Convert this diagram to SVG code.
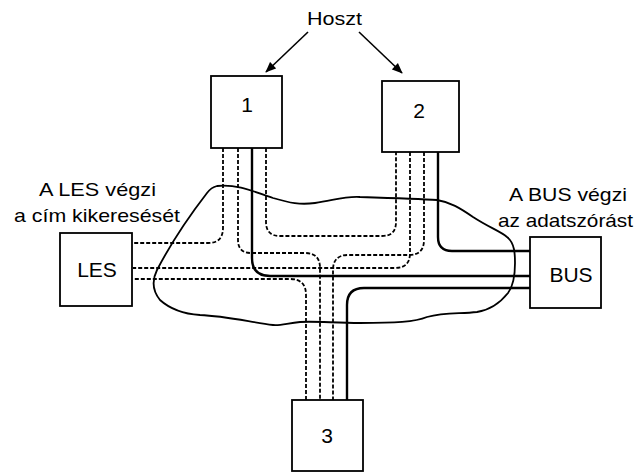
<svg xmlns="http://www.w3.org/2000/svg" width="638" height="472" viewBox="0 0 638 472">
<style>
.box{fill:#fff;stroke:#000;stroke-width:1.8}
.lbl{font-family:"Liberation Sans",Arial,sans-serif;font-size:19px;fill:#000}
.num{font-family:"Liberation Sans",Arial,sans-serif;font-size:21px;fill:#000;text-anchor:middle}
.sol{fill:none;stroke:#000;stroke-width:2.4}
.dash{fill:none;stroke:#000;stroke-width:1.8;stroke-dasharray:4 2}
.cloud{fill:none;stroke:#000;stroke-width:1.8}
.arr{fill:none;stroke:#000;stroke-width:1.6}
</style>
<defs>
<marker id="ah" viewBox="0 0 12 10" refX="11" refY="5" markerWidth="12" markerHeight="9" markerUnits="userSpaceOnUse" orient="auto">
<path d="M0,0 L12,5 L0,10 z" fill="#000"/>
</marker>
</defs>
<rect width="638" height="472" fill="#fff"/>
<path class="cloud" d="M217,186 C235,184 250,190 273,198 C290,203 300,205 315,203 C335,200 345,196 360,197 C390,198 420,199 437,200 C450,202 460,208 473,217 C490,228 500,231 507,237 C515,243 515,255 515,263 C515,275 514,285 508,293 C500,303 490,310 477,312 C460,314 445,312 427,317 C415,322 395,323 360,323 C335,323 315,321 300,322 C288,323 280,326 273,325 C250,322 225,316 200,315 C185,314 170,309 160,300 C152,290 152,280 157,270 C170,245 190,215 207,193 C210,189 213,187 217,186 Z"/>
<g id="connectors">
<path class="dash" d="M223,148 V228 Q223,243 208,243 H133"/>
<path class="dash" d="M238,148 V240 Q238,253 251,253 H305 Q320,253 320,268 V400"/>
<path class="sol" d="M252,148 V258 Q252,276 270,276 H530"/>
<path class="dash" d="M266,148 V222 Q266,236 280,236 H382 Q396,236 396,222 V152"/>
<path class="dash" d="M410,152 V253 Q410,268 395,268 H133"/>
<path class="dash" d="M424,152 V240 Q424,255 409,255 H348 Q333,255 333,270 V400"/>
<path class="sol" d="M438,152 V237 Q438,251 452,251 H530"/>
<path class="dash" d="M306,400 V295 Q306,279 290,279 H133"/>
<path class="sol" d="M347,400 V305 Q347,288 364,288 H530"/>
<line class="arr" x1="308" y1="32" x2="266" y2="72" marker-end="url(#ah)"/>
<line class="arr" x1="359" y1="32" x2="402" y2="73" marker-end="url(#ah)"/>
</g>
<g id="host1"><rect class="box" x="211" y="76" width="71" height="72"/><text class="num" x="247" y="112">1</text></g>
<g id="host2"><rect class="box" x="382" y="81" width="77" height="71"/><text class="num" x="419" y="118">2</text></g>
<g id="host3"><rect class="box" x="292" y="400" width="71" height="71"/><text class="num" x="327" y="443">3</text></g>
<g id="les"><rect class="box" x="60" y="233" width="72" height="73"/><text class="num" x="97" y="277">LES</text></g>
<g id="bus"><rect class="box" x="530" y="237" width="71" height="71"/><text class="num" x="571" y="282">BUS</text></g>
<g id="labels">
<text class="lbl" x="307" y="25" textLength="55" lengthAdjust="spacingAndGlyphs">Hoszt</text>
<text class="lbl" x="39" y="196" textLength="117" lengthAdjust="spacingAndGlyphs">A LES végzi</text>
<text class="lbl" x="14" y="222" textLength="166" lengthAdjust="spacingAndGlyphs">a cím kikeresését</text>
<text class="lbl" x="509" y="201" textLength="118" lengthAdjust="spacingAndGlyphs">A BUS végzi</text>
<text class="lbl" x="498" y="227" textLength="135" lengthAdjust="spacingAndGlyphs">az adatszórást</text>
</g>
</svg>
